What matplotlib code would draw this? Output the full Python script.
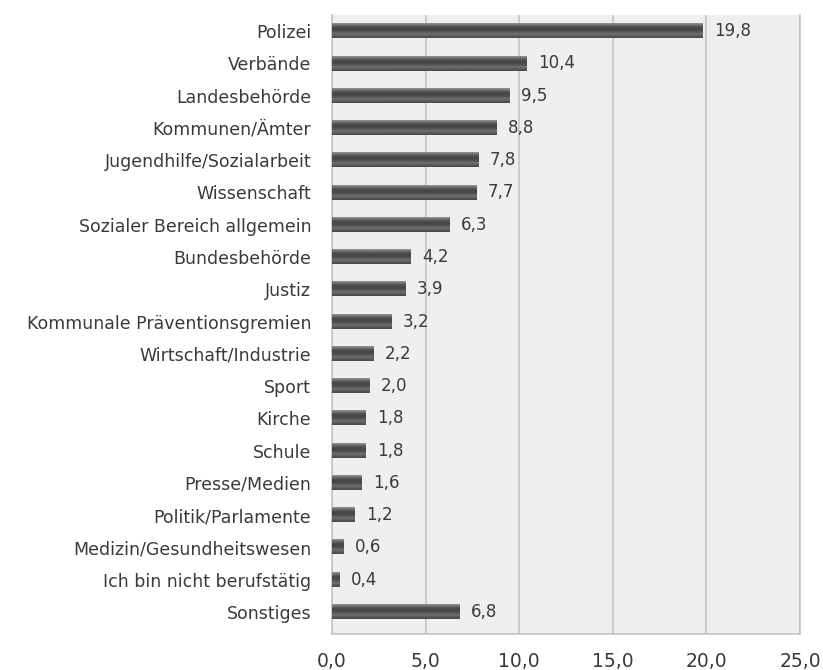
import numpy as np
from matplotlib import pyplot as plt

categories = ['Polizei', 'Verbände', 'Landesbehörde', 'Kommunen/Ämter',
              'Jugendhilfe/Sozialarbeit', 'Wissenschaft', 'Sozialer Bereich allgemein',
              'Bundesbehörde', 'Justiz', 'Kommunale Präventionsgremien',
              'Wirtschaft/Industrie', 'Sport', 'Kirche', 'Schule', 'Presse/Medien',
              'Politik/Parlamente', 'Medizin/Gesundheitswesen',
              'Ich bin nicht berufstätig', 'Sonstiges']
values = [19.8, 10.4, 9.5, 8.8, 7.8, 7.7, 6.3, 4.2, 3.9, 3.2,
          2.2, 2.0, 1.8, 1.8, 1.6, 1.2, 0.6, 0.4, 6.8]
xticks = [0, 5, 10, 15, 20, 25]

plt.rcParams['font.family'] = ['DejaVu Sans']

fig = plt.figure(figsize=(8.23, 6.70), dpi=100)
ax = fig.add_axes([0.4034, 0.054, 0.5686, 0.9236])
ax.set_facecolor('#efefef')

bar_h = 0.44
# vertical gradient to give the bars a rounded look
grad = np.array([0.55, 0.40, 0.31, 0.27, 0.29, 0.35, 0.44, 0.37, 0.3]).reshape(-1, 1)
for i, v in enumerate(values):
    ax.imshow(grad, cmap='gray', vmin=0, vmax=1, aspect='auto',
              extent=(0, v, i + bar_h / 2, i - bar_h / 2), zorder=3,
              interpolation='bilinear')
    ax.text(v + 0.6, i, ('%.1f' % v).replace('.', ','), va='center', ha='left',
            fontsize=12, color='#3a3a3a', zorder=4)

ax.set_xlim(0, 25)
ax.set_ylim(len(values) - 0.32, -0.5)
ax.set_yticks(range(len(categories)))
ax.set_yticklabels(categories, fontsize=12.5, color='#3a3a3a')
ax.set_xticks(xticks)
ax.set_xticklabels([('%.1f' % t).replace('.', ',') for t in xticks], fontsize=13.5, color='#3a3a3a')
ax.tick_params(length=0)
ax.tick_params(axis='y', pad=15)
ax.tick_params(axis='x', pad=13)
ax.grid(axis='x', color='#c4c4c4', linewidth=1.2, zorder=1)
ax.set_axisbelow(True)
for s in ['left', 'bottom', 'right']:
    ax.spines[s].set_color('#c4c4c4')
    ax.spines[s].set_linewidth(1.2)
ax.spines['top'].set_visible(False)

fig.savefig('out.png', dpi=100, facecolor='white')
